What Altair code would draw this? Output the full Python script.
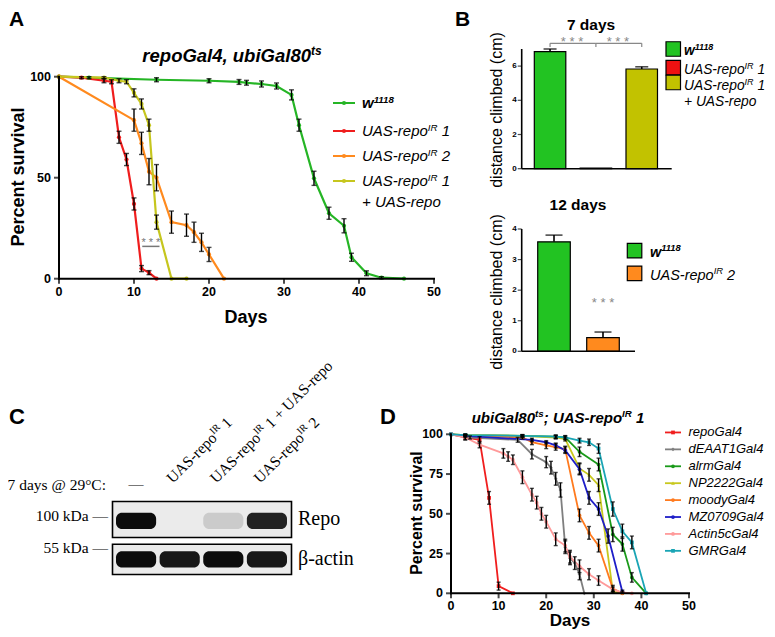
import altair as alt
import pandas as pd

# ======================= DATA =======================
# ---- Panel A : repoGal4, ubiGal80ts survival ----
A_series = ["w1118", "UAS-repoIR 1", "UAS-repoIR 2", "UAS-repoIR 1 + UAS-repo"]
A_colors = ["#25b525", "#ef1d1d", "#ff8a1e", "#c6c61e"]
A_w_days = [0, 4, 13, 20, 24, 25, 27, 29, 31, 32, 34, 36, 38, 39, 41, 43, 46]
A_w_surv = [100, 99.5, 98.5, 98, 97.4, 97, 96.4, 95.4, 91, 76, 49.7, 32.4, 26.2, 10.6, 2.7, 0.5, 0]
A_w_err = [0, 0.5, 1, 1, 1.2, 1.2, 1.5, 1.5, 2.5, 3, 3.5, 3, 3.5, 2, 1.2, 0.5, 0]
A_r1_days = [0, 3, 6, 7, 8, 9, 10, 11, 12, 13]
A_r1_surv = [100, 99.5, 98, 97.5, 70, 59, 37, 5, 3, 0]
A_r1_err = [0, 0.5, 1, 1, 3, 3, 3, 1.5, 1, 0]
A_r2_days = [0, 10, 11, 12, 13, 15, 17, 18, 19, 20, 22]
A_r2_surv = [100, 78.5, 67, 53, 50, 28, 26.5, 23, 18, 12, 0]
A_r2_err = [0, 5.5, 5.5, 6.5, 6.5, 5.5, 5.5, 5, 4.5, 3.5, 0]
A_rr_days = [0, 6, 8, 9, 10, 11, 12, 13, 15, 17]
A_rr_surv = [100, 99.5, 98, 97.5, 92, 86.5, 76, 28, 0, 0]
A_rr_err = [0, 0.5, 1, 1, 2, 2.5, 3, 3.5, 0, 0]
A_x_ticks = [0, 10, 20, 30, 40, 50]
A_y_ticks = [0, 50, 100]
A_sig_x = [11.1, 13.4]
A_sig_y = 16

# ---- Panel B : climbing ----
B7_groups = ["w1118", "UAS-repoIR 1", "UAS-repoIR 1 + UAS-repo"]
B7_colors = ["#22c322", "#ee1111", "#c2c200"]
B7_mean = [6.85, 0.04, 5.83]
B7_sem = [0.15, 0.0, 0.13]
B7_y_ticks = [0, 2, 4, 6]
B7_sig_y = 7.33
B12_groups = ["w1118", "UAS-repoIR 2"]
B12_colors = ["#22c322", "#ff8a1e"]
B12_mean = [3.58, 0.45]
B12_sem = [0.22, 0.18]
B12_y_ticks = [0, 1, 2, 3, 4]
B12_sig_y = 1.46

# ---- Panel C : western blot ----
C_lanes = ["none", "UAS-repoIR 1", "UAS-repoIR 1 + UAS-repo", "UAS-repoIR 2"]
C_proteins = ["Repo", "β-actin"]
C_repo_signal = [1.0, 0.0, 0.14, 0.9]
C_actin_signal = [1.0, 0.95, 1.0, 0.95]

# ---- Panel D : ubiGal80ts; UAS-repoIR 1 survival ----
D_series = ["repoGal4", "dEAAT1Gal4", "alrmGal4", "NP2222Gal4", "moodyGal4",
            "MZ0709Gal4", "Actin5cGal4", "GMRGal4"]
D_colors = ["#f01e1e", "#7f7f7f", "#1a9a1a", "#c8c81e", "#ff7a1e", "#1e1ec8", "#ff9a9a", "#1aa5b5"]
D_shapes = ["square", "diamond", "circle", "triangle-up", "circle", "circle", "circle", "square"]
D_days = [
    [0, 3, 6, 8, 10, 13],
    [0, 4, 14, 17, 20, 21, 22, 23, 24, 25, 26, 27, 28],
    [0, 3, 15, 22, 24, 27, 31, 34, 36, 38, 41],
    [0, 3, 15, 22, 24, 27, 29, 31, 34, 36],
    [0, 3, 15, 17, 20, 22, 24, 27, 29, 31, 34, 36],
    [0, 3, 17, 20, 22, 24, 27, 29, 31, 33, 36],
    [0, 3, 6, 11, 12, 13, 15, 17, 18, 19, 20, 22, 24, 25, 27, 29, 31, 34, 36, 38],
    [0, 3, 15, 22, 24, 27, 29, 31, 34, 36, 38, 41],
]
D_surv = [
    [100, 98, 96.5, 60, 4.5, 0],
    [100, 98, 96.5, 87.5, 82.5, 79, 72, 65, 29, 22, 19, 12, 0],
    [100, 99.5, 99, 98.5, 98, 89, 81, 37, 31, 10, 0],
    [100, 99.5, 99, 98, 97, 78.5, 74.5, 68, 1, 0],
    [100, 99, 98, 95, 93, 92, 90.5, 49, 38, 30, 3, 0],
    [100, 99, 96.5, 95, 93, 90, 78, 60, 53, 36, 1],
    [100, 98, 93.5, 88, 86, 84, 73, 62, 57, 50, 45, 34, 30, 23, 17, 12, 8, 2.5, 0.5, 0],
    [100, 99.5, 99, 98.5, 98, 96, 95, 91, 53, 39, 32, 0],
]
D_err = [
    [0, 1.5, 2, 4, 2.5, 0],
    [0, 1, 1.5, 3, 3.5, 4, 4, 4.5, 4, 4, 4, 3.5, 0],
    [0, 0.5, 0.8, 1, 1.2, 3, 4, 4.5, 4.5, 3, 0],
    [0, 0.5, 0.8, 1, 1.2, 3.5, 4, 4, 1, 0],
    [0, 1, 1, 1.5, 2, 2, 2, 4, 4, 4, 2, 0],
    [0, 0.5, 1, 1, 1.5, 2, 3.5, 4, 4, 4.5, 1],
    [0, 1.5, 2, 3, 3, 3, 4, 4, 4, 4, 4, 4, 4, 4, 4, 3.5, 3, 1.5, 0.5, 0],
    [0, 0.5, 0.5, 1, 1, 1.5, 2, 3, 4.5, 4.5, 4, 0],
]
D_x_ticks = [0, 10, 20, 30, 40, 50]
D_y_ticks = [0, 25, 50, 75, 100]

# ======================= HELPERS =======================
SANS = "Liberation Sans"
SERIF = "Liberation Serif"


def P(v):
    """page pixel -> chart pixel (8px page margin)"""
    return v - 8


W_SANS = {' ': 278, '-': 333, '+': 584, ',': 278, ';': 278, '.': 278, ':': 278, '*': 389,
          'A': 667, 'D': 722, 'G': 778, 'I': 278, 'R': 722, 'S': 667, 'U': 722,
          'a': 556, 'b': 556, 'e': 556, 'i': 222, 'l': 222, 'o': 556, 'p': 556, 'r': 333,
          's': 500, 't': 278, 'u': 556, 'w': 722}
W_SANS_B = {' ': 278, '-': 333, '+': 584, ',': 278, ';': 333, '.': 278, ':': 333, '*': 389,
            'A': 722, 'D': 722, 'G': 778, 'I': 278, 'R': 722, 'S': 667, 'U': 722,
            'a': 556, 'b': 611, 'e': 556, 'i': 278, 'l': 278, 'o': 611, 'p': 611, 'r': 389,
            's': 556, 't': 333, 'u': 611, 'w': 778}
W_SERIF = {' ': 250, '-': 333, '+': 564, 'A': 722, 'S': 556, 'U': 722, 'I': 333, 'R': 667,
           'e': 444, 'o': 500, 'p': 500, 'r': 333}


def tw(s, size, serif=False, bold=False):
    if serif:
        tab, d = W_SERIF, 500
    elif bold:
        tab, d = W_SANS_B, 556
    else:
        tab, d = W_SANS, 556
    return sum(tab.get(c, d) for c in s) * size / 1000.0


def XD(v, sc):
    return alt.XDatum(v, scale=sc, axis=None)


def YD(v, sc):
    return alt.YDatum(v, scale=sc, axis=None)


def rich(pieces, x_enc, y_enc, size, bold=False, italic=False, serif=False, align="left",
         angle=None, hshift=0.0, row=None, color="black"):
    """pieces: list of (text, is_superscript). y is the baseline."""
    ratio = 0.65
    sizes = [size * ratio if sup else size for _, sup in pieces]
    widths = [tw(t, s, serif, bold) for (t, _), s in zip(pieces, sizes)]
    total = sum(widths)
    cur = {"left": 0.0, "center": -total / 2, "right": -total}[align]
    out = []
    for (t, sup), s, w in zip(pieces, sizes, widths):
        rise = size * 0.38 if sup else 0.0
        stripped = t.lstrip(" ")
        lead = tw(t[:len(t) - len(stripped)], s, serif, bold)
        pos = cur + lead
        if angle is not None:
            c = 0.70710678
            dx, dy = pos + hshift * c, -rise + hshift * c
        else:
            dx, dy = pos + hshift, -rise
        data = dict(row or {})
        data["t"] = stripped
        kw = dict(align="left", baseline="alphabetic", dx=dx, dy=dy, fontSize=s,
                  font=SERIF if serif else SANS,
                  fontWeight="bold" if bold else "normal",
                  fontStyle="italic" if italic else "normal", color=color)
        if angle is not None:
            kw["angle"] = angle
        out.append(alt.Chart(pd.DataFrame([data])).mark_text(**kw)
                   .encode(x=x_enc, y=y_enc, text="t:N"))
        cur += w
    return out


def vtext(txt, x, y, size, bold=False, italic=False, serif=False, align="center",
          baseline="middle", angle=None, color="black"):
    kw = dict(align=align, baseline=baseline, fontSize=size, font=SERIF if serif else SANS,
              fontWeight="bold" if bold else "normal",
              fontStyle="italic" if italic else "normal", color=color)
    if angle is not None:
        kw["angle"] = angle
    return alt.Chart(pd.DataFrame({"t": [txt]})).mark_text(**kw).encode(
        x=alt.value(P(x)), y=alt.value(P(y)), text="t:N")


def long_df(names, days, survs, errs):
    rows = []
    for n, d, s, e in zip(names, days, survs, errs):
        for di, si, ei in zip(d, s, e):
            rows.append({"series": n, "day": di, "surv": si, "err": ei,
                         "lo": si - ei, "hi": si + ei})
    return pd.DataFrame(rows)


ONE = pd.DataFrame({"a": [0]})


def surv_panel(df, series, colors, shapes, xs, ys, xticks, yticks, lw, msize, capw,
               tfs, tlen, axw):
    col = alt.Color("series:N", scale=alt.Scale(domain=series, range=colors), legend=None)
    shp = alt.Shape("series:N", scale=alt.Scale(domain=series, range=shapes), legend=None)
    X = alt.X("day:Q", scale=xs, axis=None)
    base = alt.Chart(df)
    lines = base.mark_line(strokeWidth=lw).encode(
        x=X, y=alt.Y("surv:Q", scale=ys, axis=None), color=col)
    ebase = base.transform_filter("datum.err > 0")
    errs = ebase.mark_rule(color="black", strokeWidth=1.4).encode(
        x=X, y=alt.Y("lo:Q", scale=ys, axis=None), y2="hi:Q")
    cap_hi = ebase.mark_tick(orient="horizontal", size=capw, thickness=1.4, color="black").encode(
        x=X, y=alt.Y("hi:Q", scale=ys, axis=None))
    cap_lo = ebase.mark_tick(orient="horizontal", size=capw, thickness=1.4, color="black").encode(
        x=X, y=alt.Y("lo:Q", scale=ys, axis=None))
    pts = base.mark_point(filled=True, size=msize, opacity=1).encode(
        x=X, y=alt.Y("surv:Q", scale=ys, axis=None), color=col, shape=shp)
    xline = alt.Chart(ONE).mark_rule(color="black", strokeWidth=axw, strokeCap="square").encode(
        x=XD(xticks[0], xs), x2=alt.X2Datum(xticks[-1]), y=YD(yticks[0], ys))
    yline = alt.Chart(ONE).mark_rule(color="black", strokeWidth=axw, strokeCap="square").encode(
        x=XD(xticks[0], xs), y=YD(yticks[0], ys), y2=alt.Y2Datum(yticks[-1]))
    xt_df = pd.DataFrame({"v": xticks})
    yt_df = pd.DataFrame({"v": yticks})
    xt = alt.Chart(xt_df).mark_tick(orient="vertical", size=tlen, thickness=axw, color="black",
                                     yOffset=tlen / 2).encode(
        x=alt.X("v:Q", scale=xs, axis=None), y=YD(yticks[0], ys))
    xl = alt.Chart(xt_df).mark_text(baseline="top", dy=tlen + 2, fontSize=tfs, fontWeight="bold",
                                     font=SANS).encode(
        x=alt.X("v:Q", scale=xs, axis=None), y=YD(yticks[0], ys), text="v:Q")
    yt = alt.Chart(yt_df).mark_tick(orient="horizontal", size=tlen, thickness=axw, color="black",
                                     xOffset=-tlen / 2).encode(
        x=XD(xticks[0], xs), y=alt.Y("v:Q", scale=ys, axis=None))
    yl = alt.Chart(yt_df).mark_text(align="right", baseline="middle", dx=-(tlen + 3), fontSize=tfs,
                                     fontWeight="bold", font=SANS).encode(
        x=XD(xticks[0], xs), y=alt.Y("v:Q", scale=ys, axis=None), text="v:Q")
    return [lines, pts, errs, cap_hi, cap_lo, xline, yline, xt, xl, yt, yl]


def bar_panel(groups, colors, means, sems, xs, ys, ytop, yticks, x_left, x_right, capw):
    df = pd.DataFrame({"g": groups, "m": means, "s": sems,
                       "hi": [m + s for m, s in zip(means, sems)]})
    X = alt.X("g:N", scale=xs, axis=None)
    col = alt.Color("g:N", scale=alt.Scale(domain=groups, range=colors), legend=None)
    bars = alt.Chart(df).mark_bar(stroke="black", strokeWidth=1.2).encode(
        x=X, y=alt.Y("m:Q", scale=ys, axis=None), color=col)
    eb = alt.Chart(df).transform_filter("datum.s > 0")
    err = eb.mark_rule(color="black", strokeWidth=1.6).encode(
        x=X, y=alt.Y("m:Q", scale=ys, axis=None), y2="hi:Q")
    cap = eb.mark_tick(orient="horizontal", size=capw, thickness=1.6, color="black").encode(
        x=X, y=alt.Y("hi:Q", scale=ys, axis=None))
    xline = alt.Chart(ONE).mark_rule(color="black", strokeWidth=1.6).encode(
        x=alt.value(P(x_left)), x2=alt.value(P(x_right)), y=YD(0, ys))
    yline = alt.Chart(ONE).mark_rule(color="black", strokeWidth=1.6).encode(
        x=alt.value(P(x_left)), y=YD(0, ys), y2=alt.Y2Datum(ytop))
    yt_df = pd.DataFrame({"v": yticks})
    yt = alt.Chart(yt_df).mark_tick(orient="horizontal", size=4, thickness=1.2, color="black",
                                     xOffset=-2).encode(
        x=alt.value(P(x_left)), y=alt.Y("v:Q", scale=ys, axis=None))
    yl = alt.Chart(yt_df).mark_text(align="right", baseline="middle", dx=-5, fontSize=8,
                                     fontWeight="bold", font=SANS).encode(
        x=alt.value(P(x_left)), y=alt.Y("v:Q", scale=ys, axis=None), text="v:Q")
    return [bars, err, cap, xline, yline, yt, yl]


def legend_box(x0, yc, size, color):
    return alt.Chart(ONE).mark_rect(
        fill=color, stroke="black", strokeWidth=1.2).encode(
        x=alt.value(P(x0)), x2=alt.value(P(x0 + size)),
        y=alt.value(P(yc - size / 2)), y2=alt.value(P(yc + size / 2)))


def IRlabel(num):
    return [("UAS-repo", False), ("IR", True), (" " + num, False)]


layers = []

# ======================= PANEL A =======================
xA = alt.Scale(domain=[0, 50], range=[P(59), P(434)], nice=False, zero=False)
yA = alt.Scale(domain=[0, 100], range=[P(278.7), P(76.7)], nice=False, zero=False)
dfA = long_df(A_series, [A_w_days, A_r1_days, A_r2_days, A_rr_days],
              [A_w_surv, A_r1_surv, A_r2_surv, A_rr_surv],
              [A_w_err, A_r1_err, A_r2_err, A_rr_err])
layers += surv_panel(dfA, A_series, A_colors, ["circle"] * 4, xA, yA, A_x_ticks, A_y_ticks,
                     lw=2.2, msize=18, capw=5, tfs=12.5, tlen=5, axw=2)
layers.append(alt.Chart(ONE).mark_rule(color="#777777", strokeWidth=1.5).encode(
    x=XD(A_sig_x[0], xA), x2=alt.X2Datum(A_sig_x[1]), y=YD(A_sig_y, yA)))
layers.append(alt.Chart(pd.DataFrame({"t": ["* * *"]})).mark_text(
    baseline="alphabetic", dy=0, fontSize=11, color="#777777", font=SANS).encode(
    x=XD(sum(A_sig_x) / 2, xA), y=YD(A_sig_y, yA), text="t:N"))

# ---- Panel A legend ----
A_leg_y = [103, 131, 156, 181]
for i, (s, c) in enumerate(zip(A_series, A_colors)):
    yc = A_leg_y[i]
    layers.append(alt.Chart(ONE).mark_rule(color=c, strokeWidth=2).encode(
        x=alt.value(P(333)), x2=alt.value(P(355)), y=alt.value(P(yc))))
    layers.append(alt.Chart(ONE).mark_circle(color=c, size=18, opacity=1).encode(
        x=alt.value(P(344)), y=alt.value(P(yc))))
A_leg_pieces = [[("w", False), ("1118", True)], IRlabel("1"), IRlabel("2"), IRlabel("1")]
for i, pcs in enumerate(A_leg_pieces):
    layers += rich(pcs, alt.value(P(362)), alt.value(P(A_leg_y[i] + 5.3)), 15,
                   bold=(i == 0), italic=True)
layers += rich([("+ UAS-repo", False)], alt.value(P(362)), alt.value(P(206.5)), 15, italic=True)

# ---- Panel A texts ----
layers.append(vtext("A", 9, 9, 21, bold=True, align="left", baseline="top"))
layers += rich([("repoGal4, ubiGal80", False), ("ts", True)], alt.value(P(232)), alt.value(P(62)),
               18.5, bold=True, italic=True, align="center")
layers.append(vtext("Percent survival", 19, 177, 18, bold=True, angle=270))
layers.append(vtext("Days", 246, 318, 18, bold=True))

# ======================= PANEL B =======================
xB7 = alt.Scale(type="band", domain=B7_groups, range=[P(521.7), P(670.1)],
                paddingInner=0.313, paddingOuter=0.275)
yB7 = alt.Scale(domain=[0, 7], range=[P(168.7), P(49)], nice=False, zero=True)
layers += bar_panel(B7_groups, B7_colors, B7_mean, B7_sem, xB7, yB7, 7, B7_y_ticks,
                    521.7, 671.7, capw=13)
br_df = pd.DataFrame({"g1": [B7_groups[0], B7_groups[1]], "g2": [B7_groups[1], B7_groups[2]]})
layers.append(alt.Chart(br_df).mark_rule(color="#888888", strokeWidth=1.2).encode(
    x=alt.X("g1:N", scale=xB7, axis=None), x2="g2:N", y=YD(B7_sig_y, yB7)))
tick_df = pd.DataFrame({"g": [B7_groups[0], B7_groups[1], B7_groups[2]]})
layers.append(alt.Chart(tick_df).mark_rule(color="#888888", strokeWidth=1.2).encode(
    x=alt.X("g:N", scale=xB7, axis=None), y=YD(B7_sig_y, yB7),
    y2=alt.Y2Datum(B7_sig_y - 0.22)))
layers.append(alt.Chart(pd.DataFrame({"g": B7_groups[:2], "t": ["* * *", "* * *"]})).mark_text(
    baseline="alphabetic", dx=22, dy=2.6, fontSize=13, color="#888888", font=SANS).encode(
    x=alt.X("g:N", scale=xB7, axis=None), y=YD(B7_sig_y, yB7), text="t:N"))

xB12 = alt.Scale(type="band", domain=B12_groups, range=[P(521.7), P(635.3)],
                 paddingInner=0.335, paddingOuter=0.327)
yB12 = alt.Scale(domain=[0, 4], range=[P(351.3), P(229)], nice=False, zero=True)
layers += bar_panel(B12_groups, B12_colors, B12_mean, B12_sem, xB12, yB12, 4, B12_y_ticks,
                    521.7, 635, capw=17)
layers.append(alt.Chart(pd.DataFrame({"g": [B12_groups[1]], "t": ["* * *"]})).mark_text(
    baseline="alphabetic", fontSize=13, color="#888888", font=SANS).encode(
    x=alt.X("g:N", scale=xB12, axis=None), y=YD(B12_sig_y, yB12), text="t:N"))

# ---- Panel B texts & legends ----
layers.append(vtext("B", 455, 9, 21, bold=True, align="left", baseline="top"))
layers.append(vtext("7 days", 591, 25, 15.5, bold=True))
layers.append(vtext("12 days", 578, 205, 15.5, bold=True))
layers.append(vtext("distance climbed (cm)", 497, 110, 16, angle=270))
layers.append(vtext("distance climbed (cm)", 497, 292, 16, angle=270))
for yc, c in zip([49, 67.7, 82.5], B7_colors):
    layers.append(legend_box(666, yc, 14.5, c))
layers += rich([("w", False), ("1118", True)], alt.value(P(684)), alt.value(P(55)), 13.8,
               bold=True, italic=True)
layers += rich(IRlabel("1"), alt.value(P(684)), alt.value(P(74)), 13.8, italic=True)
layers += rich(IRlabel("1"), alt.value(P(684)), alt.value(P(90)), 13.8, italic=True)
layers += rich([("+ UAS-repo", False)], alt.value(P(684)), alt.value(P(105.5)), 13.8, italic=True)
for yc, c in zip([250.7, 273.3], B12_colors):
    layers.append(legend_box(627.3, yc, 14.5, c))
layers += rich([("w", False), ("1118", True)], alt.value(P(650)), alt.value(P(257)), 14.5,
               bold=True, italic=True)
layers += rich(IRlabel("2"), alt.value(P(650)), alt.value(P(280)), 14.5, italic=True)

# ======================= PANEL C =======================
xC = alt.Scale(type="band", domain=C_lanes, range=[P(116), P(287)], paddingInner=0.08,
               paddingOuter=0)
yC = alt.Scale(type="band", domain=C_proteins, range=[P(512.7), P(567.4)], paddingInner=0.58,
               paddingOuter=0)
blot_df = pd.DataFrame({"lane": C_lanes * 2,
                        "protein": ["Repo"] * 4 + ["β-actin"] * 4,
                        "signal": C_repo_signal + C_actin_signal})
layers.append(alt.Chart(ONE).mark_rect(fill="#ebebeb", stroke="black", strokeWidth=1.6).encode(
    x=alt.value(P(112.5)), x2=alt.value(P(291.5)), y=alt.value(P(501.5)), y2=alt.value(P(537.5))))
layers.append(alt.Chart(ONE).mark_rect(fill="#ebebeb", stroke="black", strokeWidth=1.6).encode(
    x=alt.value(P(112.5)), x2=alt.value(P(291.5)), y=alt.value(P(544.3)), y2=alt.value(P(574.5))))
layers.append(alt.Chart(blot_df).mark_rect(color="#0c0c0c", cornerRadius=6).encode(
    x=alt.X("lane:N", scale=xC, axis=None), y=alt.Y("protein:N", scale=yC, axis=None),
    opacity=alt.Opacity("signal:Q", scale=None)))

lane_x = alt.X("lane:N", scale=xC, axis=None)
lane_pieces = {
    C_lanes[1]: IRlabel("1"),
    C_lanes[2]: [("UAS-repo", False), ("IR", True), (" 1 + UAS-repo", False)],
    C_lanes[3]: IRlabel("2"),
}
for lane, pcs in lane_pieces.items():
    layers += rich(pcs, lane_x, alt.value(P(484)), 15.5, serif=True, angle=315,
                   hshift=-7, row={"lane": lane})
layers.append(alt.Chart(pd.DataFrame({"lane": [C_lanes[0]], "t": ["—"]})).mark_text(
    fontSize=15, font=SERIF, baseline="middle").encode(x=lane_x, y=alt.value(P(484)), text="t:N"))

layers.append(vtext("C", 9, 424, 22, bold=True, align="left", baseline="alphabetic"))
layers.append(vtext("7 days @ 29°C:", 106, 485, 15.5, serif=True, align="right"))
layers.append(vtext("100 kDa —", 108, 516, 15.5, serif=True, align="right"))
layers.append(vtext("55 kDa —", 108, 548, 15.5, serif=True, align="right"))
layers.append(vtext("Repo", 298, 519, 20, serif=True, align="left"))
layers.append(vtext("β-actin", 298, 559, 20, serif=True, align="left"))

# ======================= PANEL D =======================
xD = alt.Scale(domain=[0, 50], range=[P(451), P(689)], nice=False, zero=False)
yD = alt.Scale(domain=[0, 100], range=[P(593.3), P(434.3)], nice=False, zero=False)
dfD = long_df(D_series, D_days, D_surv, D_err)
layers += surv_panel(dfD, D_series, D_colors, D_shapes, xD, yD, D_x_ticks, D_y_ticks,
                     lw=1.8, msize=14, capw=4, tfs=12.5, tlen=5, axw=2)

# ---- Panel D legend ----
legD = pd.DataFrame({"series": D_series})
yLD = alt.Y("series:N", scale=alt.Scale(type="point", domain=D_series,
                                         range=[P(424), P(559.3)]), axis=None)
colD = alt.Color("series:N", scale=alt.Scale(domain=D_series, range=D_colors), legend=None)
shpD = alt.Shape("series:N", scale=alt.Scale(domain=D_series, range=D_shapes), legend=None)
layers.append(alt.Chart(legD).mark_rule(strokeWidth=1.8).encode(
    x=alt.value(P(665)), x2=alt.value(P(681)), y=yLD, color=colD))
layers.append(alt.Chart(legD).mark_point(filled=True, size=14, opacity=1).encode(
    x=alt.value(P(673)), y=yLD, color=colD, shape=shpD))
layers.append(alt.Chart(legD).mark_text(align="left", baseline="middle", fontSize=13,
                                        fontStyle="italic", font=SANS).encode(
    x=alt.value(P(688.5)), y=yLD, text="series:N"))

layers.append(vtext("D", 380, 424, 22, bold=True, align="left", baseline="alphabetic"))
layers += rich([("ubiGal80", False), ("ts", True), ("; UAS-repo", False), ("IR", True),
                (" 1", False)], alt.value(P(558)), alt.value(P(423)), 15, bold=True,
               italic=True, align="center")
layers.append(vtext("Percent survival", 417, 513, 16, bold=True, angle=270))
layers.append(vtext("Days", 570, 621, 17, bold=True))

chart = alt.layer(*layers).resolve_scale(
    x="independent", y="independent", color="independent", shape="independent"
).properties(
    width=759, height=621, padding=0, autosize=alt.AutoSizeParams(type="none")
).configure_view(stroke=None)

chart.save("out.html", embed_options={"renderer": "svg", "actions": False})
